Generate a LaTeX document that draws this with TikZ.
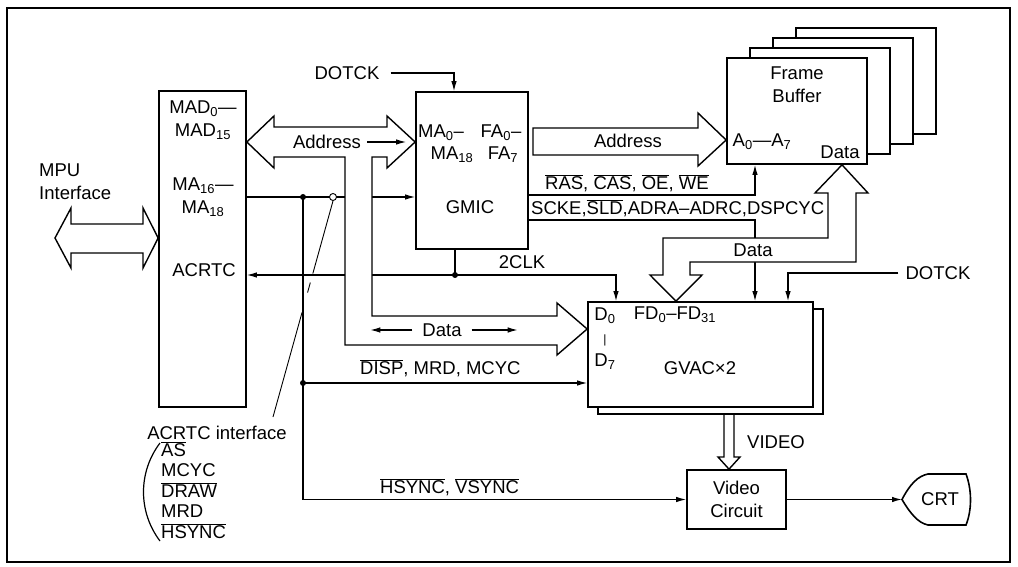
\documentclass[tikz,border=0pt]{standalone}
\usepackage{fontspec}
\setmainfont{Liberation Sans}
\usetikzlibrary{arrows.meta, calc}
\newcommand{\sbs}[1]{\textsubscript{#1}}
\newcommand{\ovl}[1]{$\overline{\mbox{#1}}$}

\begin{document}
\begin{tikzpicture}[x=1pt, y=-1pt,
        every node/.style={font=\fontsize{18.5}{23}\selectfont, inner sep=0pt},
        blk/.style={rectangle, draw=black, fill=white, line width=1.7pt},
        sig/.style={-{Latex[length=10pt, width=5.5pt]}, line width=1.2pt},
        wire/.style={line width=1.2pt},
        bus/.style={draw=black, fill=white, line width=1.4pt},
        dot/.style={circle, fill=black, minimum size=6pt}]

        \useasboundingbox (0,0) rectangle (1018,567);
        \draw[line width=1.3pt] (7,8) rectangle (1010,562);

        % blocks
        \node (mad) [blk, minimum width=87pt, minimum height=316pt] at (202.5,249) {};
        \node (gmic) [blk, minimum width=112pt, minimum height=157pt] at (472,170.5) {};
        \node (fb3) [blk, minimum width=140pt, minimum height=106pt] at (866,81) {};
        \node (fb2) [blk, minimum width=140pt, minimum height=106pt] at (843,91) {};
        \node (fb1) [blk, minimum width=140pt, minimum height=106pt] at (820,101) {};
        \node (fb) [blk, minimum width=140pt, minimum height=106pt] at (797,111) {};
        \node (gvacb) [blk, minimum width=225pt, minimum height=105pt] at (710.5,361.5) {};
        \node (gvac) [blk, minimum width=225pt, minimum height=105pt] at (700.5,354.5) {};
        \node (vid) [blk, minimum width=99pt, minimum height=59pt, align=center] at (736.5,499.5) {Video\\Circuit};

        % texts in blocks
        \node (madtxt) [align=center] at (203,120) {MAD\sbs{0}---\\MAD\sbs{15}};
        \node (matxt) [align=center] at (203,197.5) {MA\sbs{16}---\\MA\sbs{18}};
        \node (acrtc) at (204,270) {ACRTC};
        \node (mpu) [align=left, anchor=west] at (39,182) {MPU\\Interface};
        \node (gma0) at (441,133) {MA\sbs{0}--};
        \node (gma18) at (452,155) {MA\sbs{18}};
        \node (gfa0) at (501,133) {FA\sbs{0}--};
        \node (gfa7) at (503,155) {FA\sbs{7}};
        \node (gmicn) at (470,207) {GMIC};
        \node (fbtxt) [align=center] at (797,85) {Frame\\Buffer};
        \node (fba) at (762,142) {A\sbs{0}---A\sbs{7}};
        \node (fbd) at (840,152) {Data};
        \node (gd) [align=center] at (605,339) {D\sbs{0}\\{\fontsize{12}{12}\selectfont|}\\D\sbs{7}};
        \node (gfd) at (675,315) {FD\sbs{0}--FD\sbs{31}};
        \node (gname) at (700,368) {GVAC×2};

        % signal labels
        \node (dotcka) at (347,73) {DOTCK};
        \node (dotckb) at (938,273) {DOTCK};
        \node (clktxt) at (522,262) {2CLK};
        \node (rastxt) [anchor=west] at (545,183) {\ovl{RAS}, \ovl{CAS}, \ovl{OE}, \ovl{WE}};
        \node (scketxt) [anchor=west] at (531,208) {SCKE,\ovl{SLD},ADRA--ADRC,DSPCYC};
        \node (disptxt) [anchor=west] at (360,368) {\ovl{DISP}, MRD, MCYC};
        \node (hsynctxt) [anchor=west] at (380,487) {\ovl{HSYNC}, \ovl{VSYNC}};
        \node (vidtxt) at (776,442) {VIDEO};
        \node (crt) at (940,499) {CRT};
        \node (ifc) at (217,433) {ACRTC interface};
        \node (ifl) [anchor=north west, align=left, font={\fontsize{18.5}{20.5}\selectfont\lineskiplimit=-20pt}] at (161,441)
            {\ovl{AS}\\MCYC\\\ovl{DRAW}\\MRD\\\ovl{HSYNC}};
        \draw[wire] (160,443) .. controls (138,472) and (138,512) .. (160,541);

        % signal lines
        \coordinate (ma) at (303,197);
        \coordinate (disp) at (303,383);
        \coordinate (clk) at (455,275);
        \coordinate (lb) at (273,417);
        \coordinate (crttip) at (902,499.5);
        \draw[sig] (mad.east |- ma) -- (gmic.west |- ma);
        \draw[sig] (ma) |- (vid.west);
        \draw[sig] (disp) -- (disp -| gvac.west);
        \draw[wire] (gmic.south -| clk) -- (clk);
        \draw[sig] (clk) -- (clk -| mad.east);
        \draw[sig] (clk) -| (gvac.north -| 616,0);
        \draw[sig, shorten <=11pt] (dotcka.east) -| (gmic.north -| 454,0);
        \draw[sig, shorten <=7pt] (dotckb.west) -| (gvac.north -| 788,0);
        \draw[sig] (gmic.east |- 0,195) -| (fb.south -| 755,0);
        \draw[sig] (gmic.east |- 0,220) -| (gvac.north -| 755,0);
        \draw[sig] (vid.east) -- (crttip);
        \node[dot] (d1) at (ma) {};
        \node[dot] (d2) at (disp) {};
        \node[dot] (d3) at (clk) {};

        % buses
        \draw[bus] (mad.west |- 0,238) -- (143,208) -- (143,224) -- (71,224) -- (71,208) -- (55,238)
            -- (71,268) -- (71,253) -- (143,253) -- (143,268) -- cycle;
        \draw[bus] (mad.east |- 0,142) -- (274,116) -- (274,127) -- (387,127) -- (387,116) -- (gmic.west |- 0,142)
            -- (387,168) -- (387,157) -- (372,157) -- (372,316) -- (557,316) -- (557,303) -- (gvac.west |- 0,329)
            -- (557,355) -- (557,345) -- (345,345) -- (345,157) -- (274,157) -- (274,168) -- cycle;
        \draw[bus] (533,128) -- (698,128) -- (698,113) -- (fb.west |- 0,140) -- (698,166) -- (698,155) -- (533,155) -- cycle;
        \draw[bus] (fb.south -| 842,0) -- (868,193) -- (856,193) -- (856,262) -- (690,262) -- (690,275) -- (702,275)
            -- (gvac.north -| 676,0) -- (650,275) -- (663,275) -- (663,238) -- (828,238) -- (828,193) -- (815,193) -- cycle;
        \draw[line width=1.4pt] (724,414) -- (724,457) -- (718,457) -- (vid.north -| 729,0) -- (740,457) -- (734,457) -- (734,414);
        \draw[line width=1.6pt] (crttip) .. controls (910,484) and (918,476) .. (928,474) -- (966,474)
            .. controls (972,490) and (972,510) .. (966,525) -- (928,525) .. controls (918,523) and (910,513) .. (crttip) -- cycle;

        % texts on buses
        \node (addr1) at (327,142) {Address};
        \node (addr2) at (628,141) {Address};
        \node (data1) at (442,330) {Data};
        \node (data2) at (753,250) {Data};
        \draw[sig, shorten <=6pt, shorten >=9pt] (addr1.east) -- (addr1.east -| gmic.west);
        \draw[sig] ([xshift=-10pt]data1.west) -- ++(-42,0);
        \draw[sig] ([xshift=10pt]data1.east) -- ++(46,0);

        % ACRTC interface leader
        \node (oc) [circle, draw, fill=white, line width=0.9pt, minimum size=7pt] at (333,197) {};
        \draw[line width=0.9pt] (oc.south) -- ($(oc.south)!0.336!(lb)$);
        \draw[line width=0.9pt] ($(oc.south)!0.378!(lb)$) -- ($(oc.south)!0.424!(lb)$);
        \draw[line width=0.9pt] ($(oc.south)!0.516!(lb)$) -- (lb);
    \end{tikzpicture}
\end{document}
